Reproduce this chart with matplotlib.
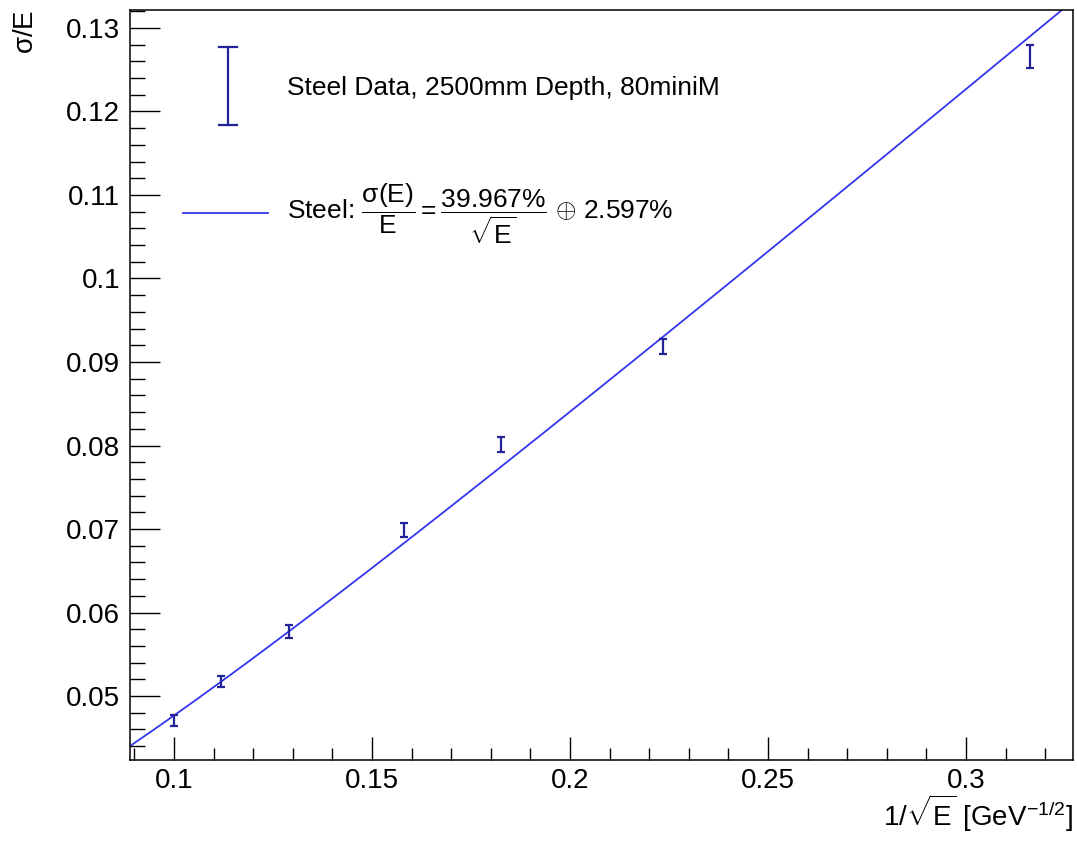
import numpy as np
import matplotlib
matplotlib.use("Agg")
import matplotlib.pyplot as plt
from matplotlib.lines import Line2D

plt.rcParams['font.family'] = ['Liberation Sans', 'DejaVu Sans']
plt.rcParams['mathtext.fontset'] = 'custom'
plt.rcParams['mathtext.rm'] = 'Liberation Sans'
plt.rcParams['mathtext.it'] = 'Liberation Sans'
plt.rcParams['mathtext.bf'] = 'Liberation Sans:bold'
plt.rcParams['mathtext.sf'] = 'Liberation Sans'

# ---- data ----
energies = [100, 80, 60, 40, 30, 20, 10]  # GeV
inv_sqrt_e = [0.1, 0.1118, 0.1291, 0.1581, 0.1826, 0.2236, 0.3162]
resolution = [0.0471, 0.0517, 0.0577, 0.0699, 0.0801, 0.0919, 0.1266]
resolution_err = [0.00066, 0.00066, 0.0008, 0.0008, 0.0009, 0.0009, 0.00138]

stochastic_term = 0.39967
constant_term = 0.02597

x_ticks = [0.1, 0.15, 0.2, 0.25, 0.3]
x_tick_labels = ['0.1', '0.15', '0.2', '0.25', '0.3']
y_ticks = [0.05, 0.06, 0.07, 0.08, 0.09, 0.1, 0.11, 0.12, 0.13]
y_tick_labels = ['0.05', '0.06', '0.07', '0.08', '0.09', '0.1', '0.11', '0.12', '0.13']
x_lim = (0.0889, 0.327)
y_lim = (0.04234, 0.13215)

data_label = 'Steel Data, 2500mm Depth, 80miniM'
fit_label = (r'Steel: $\dfrac{\sigma(\mathrm{E})}{\mathrm{E}} = '
             r'\dfrac{39.967\%}{\sqrt{\mathrm{E}}}$ $\oplus$ 2.597%')

err_color = '#23239a'
fit_color = '#3535f0'

fig = plt.figure(figsize=(10.77, 8.41), dpi=100)
ax = fig.add_axes([130/1077, 81/841, 943/1077, 750/841])

# fit curve
xf = np.linspace(x_lim[0], x_lim[1], 400)
yf = np.sqrt((stochastic_term * xf) ** 2 + constant_term ** 2)
ax.plot(xf, yf, color=fit_color, lw=1.3, zorder=2, clip_on=True)

# data
ax.errorbar(inv_sqrt_e, resolution, yerr=resolution_err, fmt='none',
            ecolor=err_color, elinewidth=1.6, capsize=3, capthick=1.6, zorder=3)

ax.set_xlim(*x_lim)
ax.set_ylim(*y_lim)
ax.set_xticks(x_ticks)
ax.set_xticklabels(x_tick_labels)
ax.set_yticks(y_ticks)
ax.set_yticklabels(y_tick_labels)
ax.xaxis.set_minor_locator(matplotlib.ticker.MultipleLocator(0.01))
ax.yaxis.set_minor_locator(matplotlib.ticker.MultipleLocator(0.002))

ax.tick_params(axis='both', which='both', direction='in', top=False, right=False,
               colors='black', width=1.0, labelsize=20)
ax.tick_params(axis='y', which='major', length=21.5, pad=7)
ax.tick_params(axis='y', which='minor', length=10.8)
ax.tick_params(axis='x', which='major', length=16.6, pad=6)
ax.tick_params(axis='x', which='minor', length=8.6)
for sp in ax.spines.values():
    sp.set_linewidth(1.1)

ax.set_xlabel(r'1/$\sqrt{\mathrm{E}}$ [GeV$^{\mathrm{-1/2}}$]', fontsize=20, loc='right')
ax.xaxis.set_label_coords(1.0, -0.043)
ax.set_ylabel(r'$\sigma$/E', fontsize=20, loc='top')
ax.yaxis.set_label_coords(-0.097, 1.0)

# legend (manual, ROOT style)
tr = ax.transAxes
xe = 0.1039
ax.add_line(Line2D([xe, xe], [0.8467, 0.9507], transform=tr, color=err_color, lw=1.6))
for yc in (0.8467, 0.9507):
    ax.add_line(Line2D([xe - 0.0095, xe + 0.0095], [yc, yc], transform=tr,
                       color=err_color, lw=1.6))
ax.text(0.1665, 0.896, data_label, transform=tr, fontsize=19, va='center', ha='left')
ax.add_line(Line2D([0.0562, 0.1463], [0.7293, 0.7293], transform=tr, color=fit_color, lw=1.3))
ax.text(0.1665, 0.7293, fit_label, transform=tr, fontsize=19, va='center', ha='left')

fig.savefig('out.png', dpi=100)
